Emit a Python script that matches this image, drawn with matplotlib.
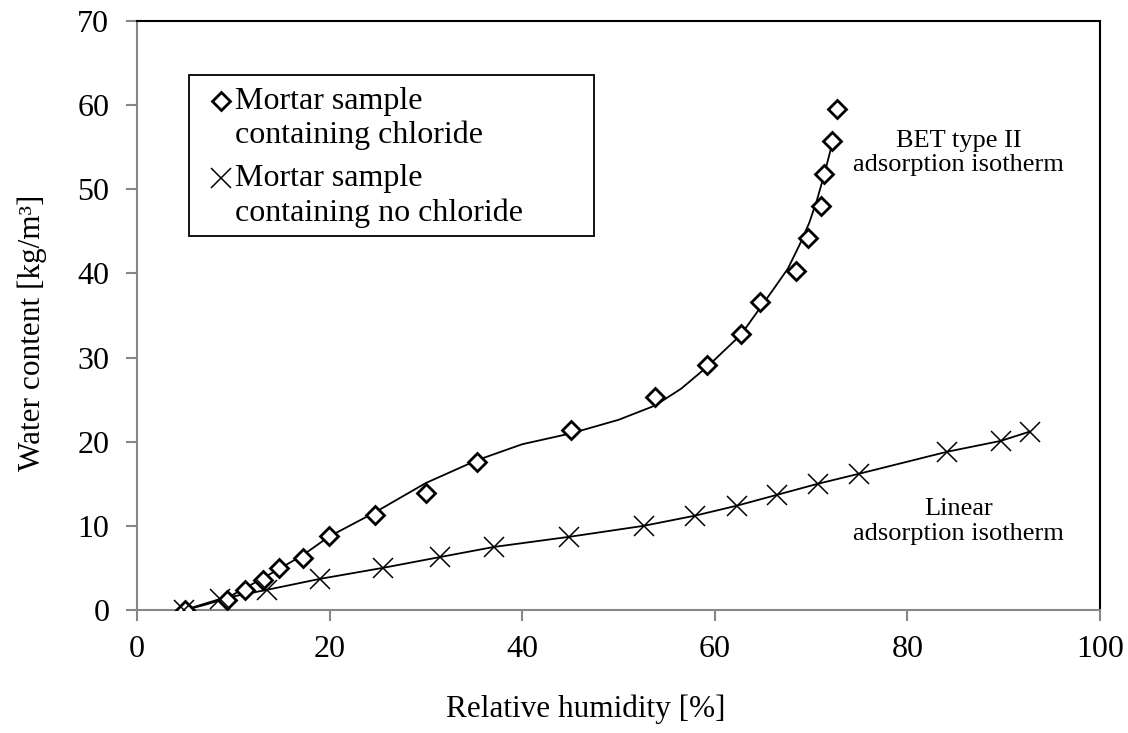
# Water sorption of mortar samples, with and without chloride
import numpy as np
import matplotlib
matplotlib.use('Agg')
import matplotlib.pyplot as plt
from matplotlib.patches import Rectangle

plt.rcParams['font.family'] = ['Liberation Serif', 'DejaVu Serif']

# diamonds - mortar containing chloride
rh_cl = [5.0, 9.3, 11.2, 13.1, 14.7, 17.2, 19.9, 24.7, 30.0, 35.3,
         45.1, 53.8, 59.2, 62.7, 64.7, 68.4, 69.7, 71.0, 71.3, 72.2, 72.7]
wc_cl = [0.0, 1.2, 2.4, 3.6, 5.0, 6.2, 8.8, 11.3, 13.9, 17.6,
         21.4, 25.3, 29.1, 32.8, 36.6, 40.3, 44.2, 48.0, 51.8, 55.7, 59.5]

# BET type II curve
rh_bet = [5.0, 7.0, 9.3, 13.1, 17.2, 19.9, 24.7, 30.0, 35.3, 40.0, 45.1,
          50.0, 53.8, 56.5, 59.2, 62.7, 64.7, 66.2, 67.6, 68.8, 69.8,
          70.6, 71.3, 71.8, 72.3]
wc_bet = [0.0, 0.6, 1.4, 3.8, 6.5, 8.7, 11.6, 15.1, 17.8, 19.7, 21.0,
          22.6, 24.3, 26.3, 28.9, 32.7, 35.9, 38.3, 40.6, 43.4, 46.0,
          48.7, 51.5, 53.7, 55.9]

# crosses - mortar containing no chloride
rh_no = [4.9, 8.6, 13.5, 19.0, 25.5, 31.5, 37.1, 44.9, 52.6, 57.9,
         62.3, 66.5, 70.7, 75.0, 84.1, 89.7, 92.7]
wc_no = [0.0, 1.3, 2.4, 3.7, 5.0, 6.3, 7.5, 8.7, 10.0, 11.2,
         12.4, 13.7, 15.0, 16.2, 18.8, 20.1, 21.2]

x_ticks = [0, 20, 40, 60, 80, 100]
y_ticks = [0, 10, 20, 30, 40, 50, 60, 70]

grey = '#878787'

fig = plt.figure(figsize=(11.28, 7.33), dpi=100)
ax = fig.add_axes([0.1215, 0.1678, 0.8537, 0.8036])

ax.plot(rh_bet, wc_bet, color='black', lw=1.3, zorder=2,
        solid_joinstyle='round')
ax.plot(rh_no, wc_no, color='black', lw=1.3, zorder=2)

ax.plot(rh_cl, wc_cl, linestyle='none', marker='D', ms=9.5, mfc='white',
        mec='black', mew=2.0, zorder=3)
ax.plot(rh_no, wc_no, linestyle='none', marker='x', ms=14, mec='black',
        mew=1.1, zorder=3)

ax.set_xlim(0, 100)
ax.set_ylim(0, 70)
ax.set_xticks(x_ticks)
ax.set_yticks(y_ticks)

for s in ['left', 'bottom']:
    ax.spines[s].set_color(grey)
    ax.spines[s].set_linewidth(1.5)
for s in ['top', 'right']:
    ax.spines[s].set_color('black')
    ax.spines[s].set_linewidth(1.5)

ax.tick_params(axis='both', direction='out', length=8, width=1.5,
               color=grey, labelsize=23)
ax.tick_params(axis='x', pad=10)
ax.tick_params(axis='y', pad=12)

ax.set_xlabel('Relative humidity [%]', fontsize=22.5, labelpad=22, x=0.466)
ax.set_ylabel('Water content [kg/m³]', fontsize=22.5, labelpad=22, y=0.47)

# annotations
ax.text(85.3, 54.3, 'BET type II\nadsorption isotherm', fontsize=19,
        ha='center', va='center', linespacing=1.15)
ax.text(85.3, 10.5, 'Linear\nadsorption isotherm', fontsize=19,
        ha='center', va='center', linespacing=1.15)

# legend box drawn by hand so the marker sits at the first text line
ax.add_patch(Rectangle((0.054, 0.635), 0.42, 0.273, transform=ax.transAxes,
                       fill=True, facecolor='white', edgecolor='black',
                       lw=1.3, zorder=4))
ax.plot([0.0872], [0.864], transform=ax.transAxes, marker='D', ms=9,
        mfc='white', mec='black', mew=2.0, zorder=5, clip_on=False)
ax.plot([0.0872], [0.733], transform=ax.transAxes, marker='x', ms=14,
        mec='black', mew=1.1, zorder=5, clip_on=False)
leg_lines = [('Mortar sample', 0.864), ('containing chloride', 0.806),
             ('Mortar sample', 0.733), ('containing no chloride', 0.674)]
for txt, yy in leg_lines:
    ax.text(0.1018, yy, txt, transform=ax.transAxes, fontsize=23,
            ha='left', va='center', zorder=5)

fig.savefig('out.png', dpi=100)
